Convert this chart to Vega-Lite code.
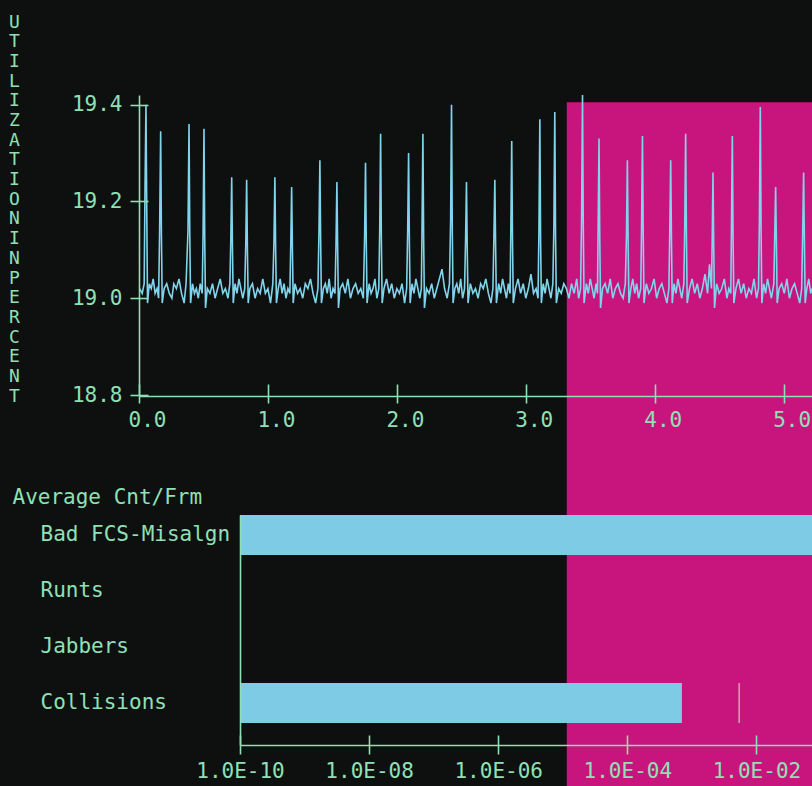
{
"$schema":"https://vega.github.io/schema/vega-lite/v6.json",
"width":812,"height":786,"autosize":{"type":"none"},"padding":0,
"background":"#0e0f0f",
"config":{"view":{"stroke":null},"font":"DejaVu Sans Mono",
"axis":{"domainColor":"#8fe0b5","tickColor":"#8fe0b5","labelColor":"#8fe0b5","titleColor":"#8fe0b5","labelFont":"DejaVu Sans Mono","titleFont":"DejaVu Sans Mono","labelFontSize":20,"grid":false,"domainWidth":1.6,"tickWidth":1.6,"titleFontWeight":"normal","labelFontWeight":"normal","labelLimit":0,"labelFlush":false,"labelOverlap":false}},
"layer":[
{"data":{"values":[
{"t":0.005,"u":19.02},{"t":0.025,"u":19.01},{"t":0.040,"u":19.03},{"t":0.046,"u":19.21},{"t":0.054,"u":19.40},{"t":0.060,"u":19.19},{"t":0.066,"u":18.99},
{"t":0.080,"u":19.03},{"t":0.095,"u":19.02},{"t":0.110,"u":19.04},{"t":0.125,"u":19.01},{"t":0.140,"u":19.02},{"t":0.152,"u":19.00},
{"t":0.160,"u":19.14},{"t":0.168,"u":19.345},{"t":0.174,"u":19.13},{"t":0.180,"u":18.99},
{"t":0.195,"u":19.02},{"t":0.215,"u":19.03},{"t":0.235,"u":19.01},{"t":0.255,"u":19.00},{"t":0.270,"u":19.03},{"t":0.290,"u":19.02},{"t":0.310,"u":19.04},{"t":0.330,"u":19.01},{"t":0.350,"u":18.99},{"t":0.365,"u":19.03},
{"t":0.380,"u":19.14},{"t":0.388,"u":19.36},{"t":0.394,"u":19.13},{"t":0.400,"u":18.99},
{"t":0.415,"u":19.03},{"t":0.430,"u":19.01},{"t":0.445,"u":19.02},{"t":0.460,"u":19.00},{"t":0.475,"u":19.03},{"t":0.490,"u":19.01},
{"t":0.497,"u":19.13},{"t":0.504,"u":19.35},{"t":0.510,"u":19.12},{"t":0.516,"u":18.98},
{"t":0.530,"u":19.02},{"t":0.550,"u":19.01},{"t":0.570,"u":19.03},{"t":0.590,"u":19.00},{"t":0.610,"u":19.02},{"t":0.630,"u":19.04},{"t":0.650,"u":19.01},{"t":0.670,"u":19.02},{"t":0.690,"u":19.00},{"t":0.705,"u":19.03},
{"t":0.712,"u":19.12},{"t":0.719,"u":19.25},{"t":0.725,"u":19.10},{"t":0.731,"u":18.99},
{"t":0.745,"u":19.03},{"t":0.760,"u":19.01},{"t":0.775,"u":19.04},{"t":0.790,"u":19.02},{"t":0.805,"u":19.00},{"t":0.820,"u":19.02},
{"t":0.828,"u":19.11},{"t":0.835,"u":19.245},{"t":0.841,"u":19.10},{"t":0.847,"u":18.99},
{"t":0.860,"u":19.02},{"t":0.880,"u":19.03},{"t":0.900,"u":19.00},{"t":0.920,"u":19.02},{"t":0.940,"u":19.01},{"t":0.960,"u":19.04},{"t":0.980,"u":19.01},{"t":1.000,"u":19.02},{"t":1.020,"u":18.99},{"t":1.038,"u":19.03},
{"t":1.047,"u":19.12},{"t":1.054,"u":19.25},{"t":1.060,"u":19.10},{"t":1.066,"u":18.99},
{"t":1.080,"u":19.02},{"t":1.095,"u":19.04},{"t":1.110,"u":19.01},{"t":1.125,"u":19.03},{"t":1.140,"u":19.00},{"t":1.155,"u":19.02},{"t":1.170,"u":19.01},
{"t":1.177,"u":19.11},{"t":1.184,"u":19.23},{"t":1.190,"u":19.10},{"t":1.196,"u":18.99},
{"t":1.210,"u":19.03},{"t":1.230,"u":19.01},{"t":1.250,"u":19.02},{"t":1.270,"u":19.00},{"t":1.290,"u":19.03},{"t":1.310,"u":19.02},{"t":1.330,"u":19.04},{"t":1.350,"u":19.01},{"t":1.370,"u":18.99},{"t":1.388,"u":19.02},
{"t":1.396,"u":19.14},{"t":1.403,"u":19.285},{"t":1.409,"u":19.12},{"t":1.415,"u":18.99},
{"t":1.430,"u":19.02},{"t":1.445,"u":19.03},{"t":1.460,"u":19.01},{"t":1.475,"u":19.04},{"t":1.490,"u":19.00},{"t":1.505,"u":19.02},{"t":1.520,"u":19.01},
{"t":1.528,"u":19.11},{"t":1.535,"u":19.24},{"t":1.541,"u":19.10},{"t":1.547,"u":18.98},
{"t":1.560,"u":19.02},{"t":1.580,"u":19.03},{"t":1.600,"u":19.01},{"t":1.620,"u":19.04},{"t":1.640,"u":19.00},{"t":1.660,"u":19.02},{"t":1.680,"u":19.03},{"t":1.700,"u":19.01},{"t":1.720,"u":19.02},{"t":1.740,"u":19.00},
{"t":1.750,"u":19.13},{"t":1.757,"u":19.28},{"t":1.763,"u":19.11},{"t":1.769,"u":18.99},
{"t":1.785,"u":19.03},{"t":1.800,"u":19.01},{"t":1.815,"u":19.02},{"t":1.830,"u":19.04},{"t":1.845,"u":19.00},{"t":1.860,"u":19.02},
{"t":1.867,"u":19.14},{"t":1.874,"u":19.34},{"t":1.880,"u":19.12},{"t":1.886,"u":18.99},
{"t":1.900,"u":19.02},{"t":1.920,"u":19.04},{"t":1.940,"u":19.01},{"t":1.960,"u":19.03},{"t":1.980,"u":19.00},{"t":2.000,"u":19.02},{"t":2.020,"u":19.01},{"t":2.040,"u":19.03},{"t":2.060,"u":18.99},{"t":2.076,"u":19.02},
{"t":2.084,"u":19.14},{"t":2.091,"u":19.30},{"t":2.097,"u":19.12},{"t":2.103,"u":18.99},
{"t":2.118,"u":19.03},{"t":2.133,"u":19.01},{"t":2.148,"u":19.04},{"t":2.163,"u":19.02},{"t":2.178,"u":19.00},{"t":2.190,"u":19.02},
{"t":2.195,"u":19.14},{"t":2.202,"u":19.34},{"t":2.208,"u":19.12},{"t":2.214,"u":18.98},
{"t":2.230,"u":19.02},{"t":2.250,"u":19.01},{"t":2.270,"u":19.03},{"t":2.290,"u":19.00},{"t":2.310,"u":19.02},{"t":2.330,"u":19.04},{"t":2.350,"u":19.06},{"t":2.370,"u":19.02},{"t":2.390,"u":19.00},{"t":2.408,"u":19.03},
{"t":2.417,"u":19.16},{"t":2.424,"u":19.40},{"t":2.430,"u":19.14},{"t":2.436,"u":18.99},
{"t":2.450,"u":19.02},{"t":2.465,"u":19.03},{"t":2.480,"u":19.01},{"t":2.495,"u":19.04},{"t":2.510,"u":19.00},{"t":2.525,"u":19.02},
{"t":2.533,"u":19.12},{"t":2.540,"u":19.24},{"t":2.546,"u":19.10},{"t":2.552,"u":18.99},
{"t":2.570,"u":19.03},{"t":2.590,"u":19.01},{"t":2.610,"u":19.02},{"t":2.630,"u":19.00},{"t":2.650,"u":19.03},{"t":2.670,"u":19.02},{"t":2.690,"u":19.04},{"t":2.710,"u":19.01},{"t":2.730,"u":18.99},{"t":2.745,"u":19.02},
{"t":2.753,"u":19.13},{"t":2.760,"u":19.245},{"t":2.766,"u":19.11},{"t":2.772,"u":18.99},
{"t":2.790,"u":19.03},{"t":2.805,"u":19.01},{"t":2.820,"u":19.04},{"t":2.835,"u":19.02},{"t":2.850,"u":19.00},{"t":2.865,"u":19.03},{"t":2.878,"u":19.01},
{"t":2.884,"u":19.14},{"t":2.891,"u":19.325},{"t":2.897,"u":19.12},{"t":2.903,"u":18.99},
{"t":2.920,"u":19.02},{"t":2.940,"u":19.04},{"t":2.960,"u":19.01},{"t":2.980,"u":19.03},{"t":3.000,"u":19.00},{"t":3.020,"u":19.02},{"t":3.040,"u":19.05},{"t":3.060,"u":19.01},{"t":3.080,"u":19.02},{"t":3.095,"u":19.00},
{"t":3.102,"u":19.14},{"t":3.109,"u":19.37},{"t":3.115,"u":19.12},{"t":3.121,"u":18.99},
{"t":3.135,"u":19.03},{"t":3.150,"u":19.01},{"t":3.165,"u":19.04},{"t":3.180,"u":19.02},{"t":3.195,"u":19.00},{"t":3.210,"u":19.03},
{"t":3.218,"u":19.15},{"t":3.225,"u":19.385},{"t":3.231,"u":19.13},{"t":3.237,"u":18.99},
{"t":3.255,"u":19.02},{"t":3.275,"u":19.01},{"t":3.295,"u":19.03},{"t":3.315,"u":19.02},{"t":3.335,"u":19.00},{"t":3.355,"u":19.03},{"t":3.375,"u":19.01},{"t":3.395,"u":19.04},{"t":3.410,"u":19.00},{"t":3.425,"u":19.02},
{"t":3.433,"u":19.17},{"t":3.440,"u":19.42},{"t":3.446,"u":19.15},{"t":3.452,"u":18.99},
{"t":3.470,"u":19.03},{"t":3.485,"u":19.01},{"t":3.500,"u":19.04},{"t":3.515,"u":19.02},{"t":3.530,"u":19.00},{"t":3.545,"u":19.03},{"t":3.556,"u":19.01},
{"t":3.561,"u":19.14},{"t":3.568,"u":19.33},{"t":3.574,"u":19.12},{"t":3.580,"u":18.98},
{"t":3.595,"u":19.02},{"t":3.615,"u":19.03},{"t":3.635,"u":19.01},{"t":3.655,"u":19.04},{"t":3.675,"u":19.00},{"t":3.695,"u":19.02},{"t":3.715,"u":19.03},{"t":3.735,"u":19.01},{"t":3.755,"u":19.00},{"t":3.772,"u":19.03},
{"t":3.781,"u":19.13},{"t":3.788,"u":19.285},{"t":3.794,"u":19.11},{"t":3.800,"u":18.99},
{"t":3.815,"u":19.02},{"t":3.830,"u":19.04},{"t":3.845,"u":19.01},{"t":3.860,"u":19.03},{"t":3.875,"u":19.00},{"t":3.892,"u":19.02},
{"t":3.898,"u":19.15},{"t":3.905,"u":19.335},{"t":3.911,"u":19.13},{"t":3.917,"u":18.99},
{"t":3.935,"u":19.03},{"t":3.955,"u":19.01},{"t":3.975,"u":19.02},{"t":3.995,"u":19.04},{"t":4.015,"u":19.00},{"t":4.035,"u":19.02},{"t":4.055,"u":19.03},{"t":4.075,"u":19.01},{"t":4.095,"u":18.99},{"t":4.110,"u":19.02},
{"t":4.117,"u":19.14},{"t":4.124,"u":19.285},{"t":4.130,"u":19.12},{"t":4.136,"u":18.99},
{"t":4.150,"u":19.03},{"t":4.165,"u":19.01},{"t":4.180,"u":19.04},{"t":4.195,"u":19.02},{"t":4.210,"u":19.00},{"t":4.226,"u":19.03},
{"t":4.233,"u":19.15},{"t":4.240,"u":19.34},{"t":4.246,"u":19.13},{"t":4.252,"u":18.99},
{"t":4.270,"u":19.02},{"t":4.290,"u":19.04},{"t":4.310,"u":19.01},{"t":4.330,"u":19.03},{"t":4.350,"u":19.00},{"t":4.370,"u":19.02},{"t":4.390,"u":19.05},{"t":4.410,"u":19.01},{"t":4.425,"u":19.07},{"t":4.440,"u":19.02},
{"t":4.446,"u":19.12},{"t":4.452,"u":19.26},{"t":4.458,"u":19.10},{"t":4.464,"u":18.98},
{"t":4.480,"u":19.03},{"t":4.500,"u":19.01},{"t":4.520,"u":19.02},{"t":4.540,"u":19.04},{"t":4.560,"u":19.00},{"t":4.575,"u":19.02},{"t":4.590,"u":19.01},
{"t":4.595,"u":19.14},{"t":4.602,"u":19.335},{"t":4.608,"u":19.12},{"t":4.614,"u":18.99},
{"t":4.630,"u":19.02},{"t":4.650,"u":19.04},{"t":4.670,"u":19.01},{"t":4.690,"u":19.03},{"t":4.710,"u":19.00},{"t":4.730,"u":19.02},{"t":4.750,"u":19.01},{"t":4.770,"u":19.04},{"t":4.790,"u":19.00},{"t":4.805,"u":19.02},
{"t":4.812,"u":19.16},{"t":4.819,"u":19.395},{"t":4.825,"u":19.14},{"t":4.831,"u":18.99},
{"t":4.845,"u":19.03},{"t":4.860,"u":19.01},{"t":4.875,"u":19.04},{"t":4.890,"u":19.02},{"t":4.905,"u":19.00},{"t":4.924,"u":19.03},
{"t":4.931,"u":19.13},{"t":4.938,"u":19.23},{"t":4.944,"u":19.11},{"t":4.950,"u":18.99},
{"t":4.965,"u":19.02},{"t":4.985,"u":19.03},{"t":5.005,"u":19.01},{"t":5.025,"u":19.04},{"t":5.045,"u":19.00},{"t":5.065,"u":19.02},{"t":5.085,"u":19.03},{"t":5.105,"u":19.01},{"t":5.125,"u":18.99},{"t":5.140,"u":19.02},
{"t":5.148,"u":19.14},{"t":5.155,"u":19.26},{"t":5.161,"u":19.12},{"t":5.167,"u":18.99},
{"t":5.180,"u":19.02},{"t":5.195,"u":19.04},{"t":5.210,"u":19.01},{"t":5.220,"u":19.02}
]},
"layer":[
{"data":{"values":[{"t":3.318,"t2":5.4,"u":19.405,"u2":17.95}]},
"mark":{"type":"rect","color":"#c8157e"},
"encoding":{
"x":{"field":"t","type":"quantitative","scale":{"domain":[0,5.22],"range":[139,812],"nice":false,"zero":false},
"axis":{"orient":"bottom","offset":-390,"values":[0,1,2,3,4,5],"tickSize":-12,"labels":false,"domain":false,"title":null,"zindex":2}},
"y":{"field":"u","type":"quantitative","scale":{"domain":[18.8,19.42],"range":[395,95],"nice":false,"zero":false},
"axis":{"orient":"left","offset":-139,"values":[18.8,19.0,19.2,19.4],"tickSize":-9,"labels":false,"domain":false,"title":null,"zindex":2}},
"x2":{"field":"t2"},"y2":{"field":"u2"}}},
{"mark":{"type":"line","color":"#80d4ec","strokeWidth":1.6,"interpolate":"linear"},
"encoding":{
"x":{"field":"t","type":"quantitative","scale":{"domain":[0,5.22],"range":[139,812],"nice":false,"zero":false},
"axis":{"orient":"bottom","offset":-390,"values":[0,1,2,3,4,5],"format":".1f","tickSize":7,"labelPadding":6,"labelOffset":8,"labelFontSize":21,"title":null,"zindex":2}},
"y":{"field":"u","type":"quantitative","scale":{"domain":[18.8,19.42],"range":[395,95],"nice":false,"zero":false},
"axis":{"orient":"left","offset":-139,"values":[18.8,19.0,19.2,19.4],"format":".1f","tickSize":9,"labelPadding":8,"labelFontSize":21,
"title":["U","T","I","L","I","Z","A","T","I","O","N"," ","I","N"," ","P","E","R","C","E","N","T"],
"titleAngle":0,"titleX":-125,"titleY":13,"titleAlign":"center","titleBaseline":"top","titleFontSize":18,"titleLineHeight":19.7,"zindex":2}}
}}
],
"resolve":{"axis":{"x":"independent","y":"independent"}}
},
{"data":{"values":[
{"cat":"Bad FCS-Misalgn","v":0.08,"peak":null},
{"cat":"Runts","v":null,"peak":null},
{"cat":"Jabbers","v":null,"peak":null},
{"cat":"Collisions","v":0.0007,"peak":0.0054}
]},
"layer":[
{"mark":{"type":"bar","color":"#7ecbe5"},
"encoding":{
"x":{"field":"v","type":"quantitative","scale":{"type":"log","domain":[1e-10,0.1],"range":[240,821],"nice":false},
"axis":{"orient":"bottom","offset":-41,"values":[1e-10,1e-8,1e-6,1e-4,1e-2],"labelExpr":"'1.0E-' + pad(format(round(-log(datum.value)/LN10),'d'), 2, '0', 'left')","tickSize":9,"labelPadding":6,"labelFontSize":21,"title":null,"zindex":2}},
"x2":{"datum":1e-10},
"y":{"field":"cat","type":"nominal","sort":null,"scale":{"domain":["Bad FCS-Misalgn","Runts","Jabbers","Collisions"],"range":[515,745],"paddingInner":0.2857,"paddingOuter":0.196,"align":0},
"axis":{"orient":"left","offset":-240,"ticks":false,"tickSize":0,"labelAlign":"left","labelPadding":200,"labelBaseline":"middle","labelFontSize":21,
"title":"Average Cnt/Frm","titleAngle":0,"titleX":-228,"titleY":497,"titleAlign":"left","titleBaseline":"middle","titleFontSize":21,"zindex":2}}
}},
{"mark":{"type":"tick","color":"#c9e6d6","thickness":1.5,"size":40},
"encoding":{
"x":{"field":"peak","type":"quantitative","scale":{"type":"log","domain":[1e-10,0.1],"range":[240,821],"nice":false},
"axis":{"orient":"bottom","offset":-41,"values":[1e-10,1e-8,1e-6,1e-4,1e-2],"tickSize":-10,"labels":false,"domain":false,"title":null,"zindex":2}},
"y":{"field":"cat","type":"nominal","sort":null}
}}
],
"resolve":{"axis":{"x":"independent"}}
}
],
"resolve":{"scale":{"x":"independent","y":"independent"}}
}
